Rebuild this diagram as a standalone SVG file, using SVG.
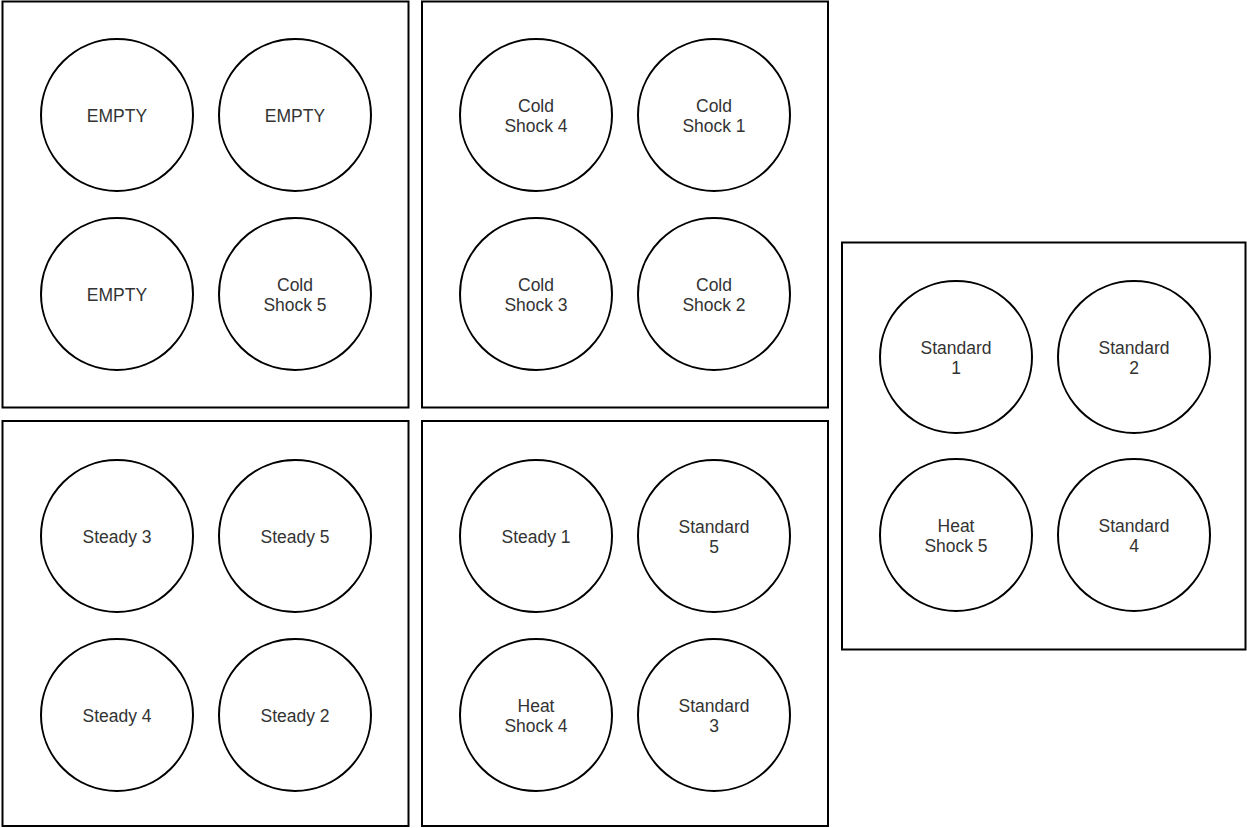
<svg xmlns="http://www.w3.org/2000/svg" width="1247" height="828" viewBox="0 0 1247 828">
<style>
.box{fill:#fff;stroke:#000;stroke-width:2}
.c{fill:#fff;stroke:#000;stroke-width:2}
text{font-family:"Liberation Sans",Arial,sans-serif;font-size:17.5px;fill:#333;text-anchor:middle}
</style>
<rect width="1247" height="828" fill="#fff"/>
<g id="plate1">
<rect class="box" x="2.5" y="1.5" width="406" height="406"/>
<g id="p1a"><circle class="c" cx="117" cy="115" r="76"/><text x="117" y="122">EMPTY</text></g>
<g id="p1b"><circle class="c" cx="295" cy="115" r="76"/><text x="295" y="122">EMPTY</text></g>
<g id="p1c"><circle class="c" cx="117" cy="294" r="76"/><text x="117" y="301">EMPTY</text></g>
<g id="p1d"><circle class="c" cx="295" cy="294" r="76"/><text x="295" y="291">Cold</text><text x="295" y="311">Shock 5</text></g>
</g>
<g id="plate2">
<rect class="box" x="422" y="1.5" width="406" height="406"/>
<g id="p2a"><circle class="c" cx="536" cy="115" r="76"/><text x="536" y="112">Cold</text><text x="536" y="132">Shock 4</text></g>
<g id="p2b"><circle class="c" cx="714" cy="115" r="76"/><text x="714" y="112">Cold</text><text x="714" y="132">Shock 1</text></g>
<g id="p2c"><circle class="c" cx="536" cy="294" r="76"/><text x="536" y="291">Cold</text><text x="536" y="311">Shock 3</text></g>
<g id="p2d"><circle class="c" cx="714" cy="294" r="76"/><text x="714" y="291">Cold</text><text x="714" y="311">Shock 2</text></g>
</g>
<g id="plate3">
<rect class="box" x="2.5" y="421" width="406" height="405"/>
<g id="p3a"><circle class="c" cx="117" cy="536" r="76"/><text x="117" y="543">Steady 3</text></g>
<g id="p3b"><circle class="c" cx="295" cy="536" r="76"/><text x="295" y="543">Steady 5</text></g>
<g id="p3c"><circle class="c" cx="117" cy="715" r="76"/><text x="117" y="722">Steady 4</text></g>
<g id="p3d"><circle class="c" cx="295" cy="715" r="76"/><text x="295" y="722">Steady 2</text></g>
</g>
<g id="plate4">
<rect class="box" x="422" y="421" width="406" height="405"/>
<g id="p4a"><circle class="c" cx="536" cy="536" r="76"/><text x="536" y="543">Steady 1</text></g>
<g id="p4b"><circle class="c" cx="714" cy="536" r="76"/><text x="714" y="533">Standard</text><text x="714" y="553">5</text></g>
<g id="p4c"><circle class="c" cx="536" cy="715" r="76"/><text x="536" y="712">Heat</text><text x="536" y="732">Shock 4</text></g>
<g id="p4d"><circle class="c" cx="714" cy="715" r="76"/><text x="714" y="712">Standard</text><text x="714" y="732">3</text></g>
</g>
<g id="plate5">
<rect class="box" x="842" y="242.5" width="403.5" height="407"/>
<g id="p5a"><circle class="c" cx="956" cy="357" r="76"/><text x="956" y="354">Standard</text><text x="956" y="374">1</text></g>
<g id="p5b"><circle class="c" cx="1134" cy="357" r="76"/><text x="1134" y="354">Standard</text><text x="1134" y="374">2</text></g>
<g id="p5c"><circle class="c" cx="956" cy="535" r="76"/><text x="956" y="532">Heat</text><text x="956" y="552">Shock 5</text></g>
<g id="p5d"><circle class="c" cx="1134" cy="535" r="76"/><text x="1134" y="532">Standard</text><text x="1134" y="552">4</text></g>
</g>
<g id="connectors"/>
</svg>
